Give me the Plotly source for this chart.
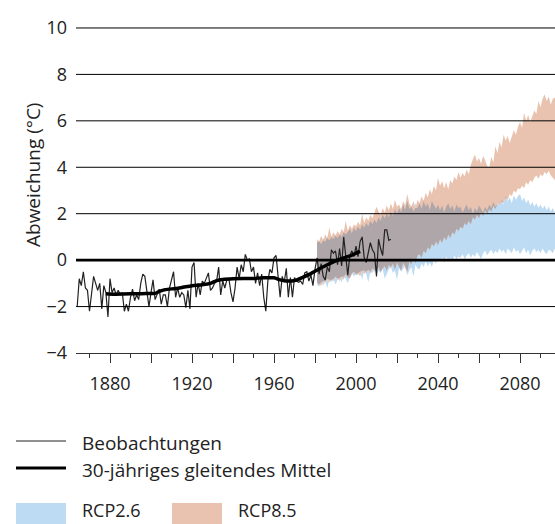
import numpy as np
import plotly.graph_objects as go

# ---------------- data ----------------
obs_years = list(range(1864, 2018))
obs_values = [
    -2.0, -0.8, -1.1, -0.5, -1.2, -1.3,
    -2.2, -1.4, -0.7, -1.0, -1.3, -1.0, -2.1, -1.1, -1.4, -2.45,
    -0.8, -1.4, -1.2, -1.5, -1.3, -1.5, -1.4, -2.2, -1.9, -2.2,
    -1.6, -1.25, -1.75, -1.5, -1.7, -1.0, -0.6, -0.7, -1.4, -2.0,
    -1.4, -0.85, -1.7, -1.5, -1.25, -1.9, -1.5, -1.5, -2.0, -1.2,
    -0.9, -0.5, -1.6, -1.2, -1.6, -1.4, -1.5, -2.05, -1.3, -2.1,
    -0.3, -0.1, -1.6, -1.0, -1.5, -0.9, -1.0, -0.8, -0.55, -1.3,
    -1.2, -1.0, -0.9, -0.3, -1.5, -0.9, -1.2, -0.85, -0.8, -1.4,
    -1.8, -1.2, -0.3, -0.8, -0.2, -0.5, 0.25, 0.0, 0.05, -0.5,
    -0.3, -1.0, -0.55, -1.1, -0.6, -1.6, -2.2, -0.9, -0.4, -0.55,
    0.1, 0.2, -0.6, -1.6, -0.7, -0.95, -0.35, -1.6, -0.75, -1.6,
    -0.75, -0.9, -0.95, -0.9, -1.05, -0.55, -0.5, -0.9, -0.65, -1.1,
    -0.4, 0.1, -0.6, -0.15, -0.7, -0.85, -0.3, -0.5, 0.45, 0.3,
    0.4, -0.2, 0.5, -0.25, 1.0, 0.3, -0.65, 0.2, 0.4, 0.15,
    0.6, 0.15, 0.8, 1.0, 0.1, -0.1, 0.4, 0.75, 0.45, 0.3,
    -0.7, 0.9, 0.5, 0.2, 1.3, 1.3, 0.85, 0.9,
]

mean_years = [1878, 1882, 1886, 1890, 1894, 1898, 1902, 1904, 1907, 1912, 1916,
              1920, 1925, 1929, 1932, 1935, 1940, 1945, 1950, 1955, 1960, 1963,
              1966, 1970, 1974, 1978, 1982, 1986, 1990, 1994, 1998, 2002]
mean_values = [-1.45, -1.47, -1.46, -1.45, -1.45, -1.44, -1.43, -1.35, -1.27, -1.22, -1.16,
               -1.1, -1.06, -1.0, -0.88, -0.83, -0.8, -0.79, -0.79, -0.76, -0.76, -0.85,
               -0.9, -0.88, -0.74, -0.58, -0.38, -0.2, -0.03, 0.1, 0.22, 0.38]

proj_years = list(range(1981, 2100))
rcp26_low = [
    -1.05, -1.15, -0.95, -1.10, -0.90, -1.20, -0.85, -0.95, -0.80, -1.05,
    -0.85, -0.75, -0.95, -0.70, -0.80, -1.00, -0.75, -0.55, -0.70, -0.60,
    -0.65, -0.50, -0.85, -0.45, -0.60, -0.95, -0.50, -0.55, -0.40, -0.65,
    -0.45, -0.55, -0.35, -0.80, -0.60, -0.40, -0.30, -0.55, -0.45, -0.85,
    -0.35, -0.50, -0.40, -0.25, -0.65, -0.45, -0.30, -0.70, -0.20, -0.35,
    -0.40, -0.15, -0.30, -0.05, -0.25, -0.10, -0.30, 0.00, -0.15, 0.05,
    -0.05, 0.10, -0.10, 0.15, 0.00, 0.10, -0.05, 0.20, 0.05, 0.15,
    0.10, 0.25, 0.05, 0.20, 0.30, 0.10, 0.25, 0.15, 0.35, 0.20,
    0.05, 0.30, 0.40, 0.20, 0.35, 0.45, 0.25, 0.40, 0.30, 0.50,
    0.35, 0.45, 0.25, 0.50, 0.40, 0.30, 0.55, 0.35, 0.45, 0.25,
    0.40, 0.55, 0.30, 0.45, 0.20, 0.40, 0.50, 0.35, 0.45, 0.30,
    0.50, 0.35, 0.25, 0.45, 0.40, 0.30, 0.50, 0.35, 0.45,
]
rcp26_high = [
    0.75, 0.85, 0.70, 0.95, 0.80, 1.00, 0.85, 1.05, 0.90, 1.10,
    0.95, 1.15, 1.00, 1.25, 1.10, 1.20, 1.35, 1.15, 1.40, 1.25,
    1.45, 1.30, 1.55, 1.40, 1.60, 1.45, 1.70, 1.55, 1.75, 1.60,
    1.85, 1.70, 1.95, 1.80, 2.00, 1.85, 2.10, 1.90, 2.20, 2.00,
    2.25, 2.05, 2.40, 2.15, 2.55, 2.20, 2.35, 2.10, 2.45, 2.25,
    2.50, 2.20, 2.60, 2.30, 2.45, 2.15, 2.55, 2.35, 2.20, 2.40,
    2.15, 2.35, 2.05, 2.30, 2.45, 2.20, 2.35, 2.10, 2.40, 2.25,
    2.30, 2.05, 2.25, 2.40, 2.15, 2.30, 2.00, 2.25, 2.10, 2.35,
    2.20, 2.05, 2.30, 2.15, 2.40, 2.25, 2.50, 2.30, 2.45, 2.35,
    2.60, 2.40, 2.75, 2.55, 2.70, 2.45, 2.80, 2.60, 2.75, 2.85,
    2.55, 2.70, 2.45, 2.60, 2.35, 2.50, 2.30, 2.45, 2.25, 2.40,
    2.20, 2.35, 2.15, 2.30, 2.10, 2.25, 2.05, 2.20, 2.15,
]
rcp85_low = [
    -0.95, -1.05, -1.10, -0.90, -1.00, -0.80, -0.95, -0.85, -0.90, -0.70,
    -0.80, -0.90, -0.70, -0.85, -0.60, -0.75, -0.80, -0.60, -0.50, -0.65,
    -0.55, -0.70, -0.45, -0.60, -0.50, -0.40, -0.60, -0.35, -0.50, -0.40,
    -0.30, -0.50, -0.40, -0.25, -0.45, -0.20, -0.35, -0.15, -0.40, -0.10,
    -0.25, -0.45, -0.10, -0.35, -0.50, -0.05, -0.20, 0.10, -0.15, 0.20,
    0.25, 0.10, 0.40, 0.30, 0.55, 0.45, 0.70, 0.60, 0.80, 0.65,
    0.90, 0.75, 1.00, 0.85, 1.10, 0.95, 1.20, 1.10, 1.35, 1.25,
    1.45, 1.35, 1.60, 1.50, 1.70, 1.55, 1.85, 1.75, 1.95, 1.80,
    2.05, 1.90, 2.15, 2.00, 2.20, 2.10, 2.35, 2.20, 2.45, 2.35,
    2.55, 2.45, 2.70, 2.60, 2.85, 2.75, 3.00, 2.90, 3.10, 3.05,
    3.20, 3.10, 3.35, 3.25, 3.45, 3.35, 3.55, 3.65, 3.50, 3.70,
    3.60, 3.80, 3.70, 3.85, 3.65, 3.55, 3.45, 3.60, 3.50,
]
rcp85_high = [
    0.90, 0.80, 1.05, 0.85, 1.10, 0.95, 1.40, 1.00, 1.20, 1.05,
    1.25, 1.10, 1.35, 1.20, 1.70, 1.25, 1.50, 1.35, 1.55, 1.45,
    1.65, 1.50, 2.00, 1.60, 1.85, 1.70, 1.95, 1.80, 2.05, 2.30,
    2.10, 1.95, 2.25, 2.05, 2.35, 2.15, 2.45, 2.20, 2.60, 2.30,
    2.40, 2.20, 2.55, 2.35, 2.85, 2.45, 2.30, 2.55, 2.25, 2.60,
    2.45, 2.75, 2.55, 2.90, 2.70, 3.05, 2.85, 3.20, 3.00, 3.55,
    3.20, 3.40, 3.10, 3.35, 3.05, 3.45, 3.30, 3.60, 3.45, 3.80,
    3.55, 3.75, 3.60, 3.90, 3.70, 4.10, 4.35, 4.55, 4.25, 4.40,
    4.15, 4.50, 4.30, 4.05, 4.00, 4.45, 4.20, 4.90, 4.60, 5.10,
    4.85, 5.40, 5.15, 5.35, 5.05, 5.30, 5.60, 5.40, 5.75, 5.95,
    5.70, 6.35, 6.00, 6.25, 5.95, 6.20, 6.45, 6.30, 6.85, 6.60,
    6.95, 7.15, 6.85, 7.05, 6.70, 6.95, 7.00, 7.10, 6.90,
]

y_tick_vals = [-4, -2, 0, 2, 4, 6, 8, 10]
y_tick_text = ["\u22124", "\u22122", "0", "2", "4", "6", "8", "10"]
x_major_vals = [1880, 1900, 1920, 1940, 1960, 1980, 2000, 2020, 2040, 2060, 2080]
x_major_text = ["1880", "", "1920", "", "1960", "", "2000", "", "2040", "", "2080"]
x_minor_vals = [1870, 1890, 1910, 1930, 1950, 1970, 1990, 2010, 2030, 2050, 2070, 2090]

legend_labels = ["Beobachtungen", "30-jähriges gleitendes Mittel", "RCP2.6", "RCP8.5"]

# ---------------- style ----------------
C_BLUE = "#bddbf3"
C_ORANGE = "#eac3b0"
C_OVER = "#aea6a8"
TXT = "#222222"
FONT = "Open Sans"

W, H = 555, 524
ML, MR, MT, MB = 76, 0, 21, 171
PW, PH = W - ML - MR, H - MT - MB


def px(x):
    return (x - ML) / PW


def py(y):
    return (H - MB - y) / PH


def band(years, lo, hi, color):
    xs = list(years) + list(years)[::-1]
    ys = list(hi) + list(lo)[::-1]
    return go.Scatter(x=xs, y=ys, fill="toself", fillcolor=color,
                      line=dict(width=0, color=color), mode="lines",
                      hoverinfo="skip", showlegend=False)


b_lo, b_hi = np.array(rcp26_low), np.array(rcp26_high)
o_lo, o_hi = np.array(rcp85_low), np.array(rcp85_high)
ov_lo = np.maximum(b_lo, o_lo)
ov_hi = np.maximum(np.minimum(b_hi, o_hi), ov_lo)

fig = go.Figure()
fig.add_trace(band(proj_years, b_lo, b_hi, C_BLUE))
fig.add_trace(band(proj_years, o_lo, o_hi, C_ORANGE))
fig.add_trace(band(proj_years, ov_lo, ov_hi, C_OVER))
fig.add_trace(go.Scatter(x=obs_years, y=obs_values, mode="lines",
                         line=dict(color="#222222", width=1.2),
                         name=legend_labels[0], showlegend=False))
fig.add_trace(go.Scatter(x=mean_years, y=mean_values, mode="lines",
                         line=dict(color="#000000", width=3.5, shape="spline", smoothing=0.6),
                         name=legend_labels[1], showlegend=False))

# horizontal grid lines drawn above the bands
shapes = []
for v in y_tick_vals:
    if v == -4:
        continue
    shapes.append(dict(type="line", xref="paper", x0=0, x1=1, yref="y", y0=v, y1=v,
                       line=dict(color="#000000", width=2.6 if v == 0 else 1),
                       layer="above"))

# manual legend
shapes += [
    dict(type="line", xref="paper", yref="paper", x0=px(16), x1=px(66), y0=py(441), y1=py(441),
         line=dict(color="#222", width=1)),
    dict(type="line", xref="paper", yref="paper", x0=px(16), x1=px(66), y0=py(468), y1=py(468),
         line=dict(color="#000", width=3)),
    dict(type="rect", xref="paper", yref="paper", x0=px(16), x1=px(66), y0=py(503), y1=py(530),
         line=dict(width=0), fillcolor=C_BLUE),
    dict(type="rect", xref="paper", yref="paper", x0=px(172), x1=px(222), y0=py(503), y1=py(530),
         line=dict(width=0), fillcolor=C_ORANGE),
]

LF = dict(size=19, color=TXT, family=FONT)
RF = dict(size=18, color=TXT, family=FONT)
annotations = [
    dict(text="Abweichung (°C)", xref="paper", yref="paper", x=px(33), y=py(175),
         textangle=-90, showarrow=False, xanchor="center", yanchor="middle", font=LF),
    dict(text=legend_labels[0], xref="paper", yref="paper", x=px(80), y=py(443),
         showarrow=False, xanchor="left", yanchor="middle", font=LF),
    dict(text=legend_labels[1], xref="paper", yref="paper", x=px(80), y=py(470),
         showarrow=False, xanchor="left", yanchor="middle", font=LF),
    dict(text=legend_labels[2], xref="paper", yref="paper", x=px(80), y=py(524),
         showarrow=False, xanchor="left", yanchor="bottom", font=RF),
    dict(text=legend_labels[3], xref="paper", yref="paper", x=px(236), y=py(524),
         showarrow=False, xanchor="left", yanchor="bottom", font=RF),
]

x0 = 1880 - (110 - ML) / 2.05
x1 = 1880 + (W - 110) / 2.05

fig.update_layout(
    width=W, height=H,
    margin=dict(l=ML, r=MR, t=MT, b=MB, pad=0),
    paper_bgcolor="white", plot_bgcolor="white",
    font=dict(family=FONT, size=18, color=TXT),
    showlegend=False,
    shapes=shapes,
    annotations=annotations,
    xaxis=dict(range=[x0, x1], tickmode="array", tickvals=x_major_vals, ticktext=x_major_text,
               showgrid=False, zeroline=False, showline=True, linecolor="#333", linewidth=1,
               ticks="outside", ticklen=9, tickwidth=1, tickcolor="#333",
               ticklabelstandoff=5,
               minor=dict(tickmode="array", tickvals=x_minor_vals, ticks="outside",
                          ticklen=4, tickwidth=1, tickcolor="#333", showgrid=False),
               tickfont=dict(size=18, color=TXT, family=FONT)),
    yaxis=dict(range=[-4, 10.3], tickmode="array", tickvals=y_tick_vals, ticktext=y_tick_text,
               showgrid=False, zeroline=False, showline=False, ticks="",
               ticklabelstandoff=8,
               tickfont=dict(size=18, color=TXT, family=FONT)),
)

fig.write_html("out.html", config={"displayModeBar": False},
               post_script="document.body.style.margin='0';document.body.style.overflow='hidden';")
